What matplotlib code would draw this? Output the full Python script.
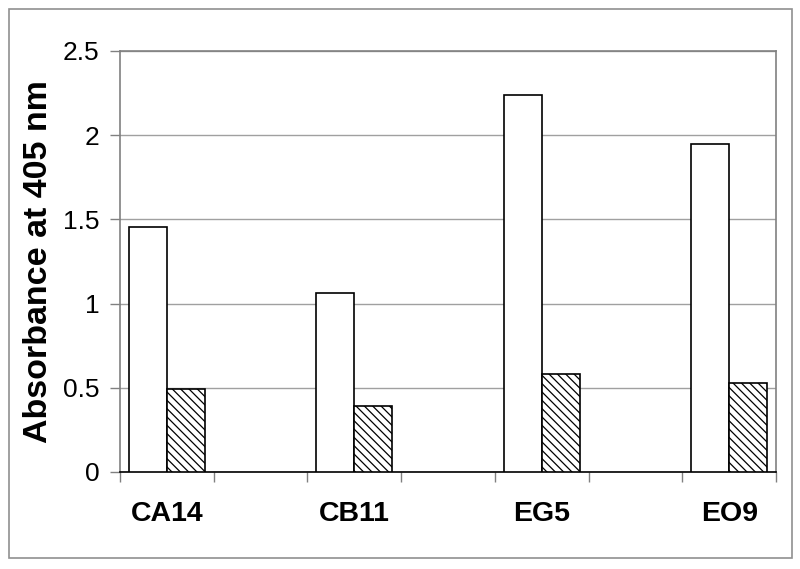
import matplotlib.pyplot as plt
from matplotlib.patches import Rectangle
import numpy as np

plt.rcParams['font.family'] = ['Liberation Sans', 'DejaVu Sans']
plt.rcParams['hatch.linewidth'] = 0.9

samples = ['CA14', 'CB11', 'EG5', 'EO9']
open_vals = [1.455, 1.063, 2.236, 1.95]
hatched_vals = [0.49, 0.39, 0.58, 0.53]

fig = plt.figure(figsize=(8, 5.69), dpi=100)
ax = fig.add_axes([0.15, 0.1705, 0.82, 0.74])

# samples sit in every second slot of seven
pos = np.arange(len(samples)) * 2 + 0.5
w = 0.405
ax.bar(pos - w / 2, open_vals, width=w, color='white', edgecolor='black', linewidth=1.2, zorder=3)
ax.bar(pos + w / 2, hatched_vals, width=w, color='white', edgecolor='black', linewidth=1.2,
       hatch='\\\\\\\\', zorder=3)

ax.set_xlim(0, 7)
ax.set_ylim(0, 2.5)
ax.set_yticks([0, 0.5, 1, 1.5, 2, 2.5])
ax.set_yticklabels(['0', '0.5', '1', '1.5', '2', '2.5'], fontsize=19)
ax.yaxis.grid(True, color='#a0a0a0', linewidth=1.0, zorder=0)
ax.set_axisbelow(True)

ax.set_xticks(pos)
ax.set_xticklabels(samples, fontsize=20.5, fontweight='bold')
ax.set_xticks(np.arange(0, 8), minor=True)
ax.tick_params(axis='x', which='major', length=0, pad=21)
ax.tick_params(axis='x', which='minor', length=7, width=1, color='#808080', direction='out')
ax.tick_params(axis='y', length=7, width=1, color='#808080', pad=8)

ax.set_ylabel('Absorbance at 405 nm', fontsize=24.5, fontweight='bold', labelpad=6)

for s in ['top', 'right', 'left']:
    ax.spines[s].set_color('#808080')
    ax.spines[s].set_linewidth(1.2)
ax.spines['bottom'].set_color('black')
ax.spines['bottom'].set_linewidth(1.2)

fig.patches.append(Rectangle((0.01125, 0.0193), 0.979, 0.965, transform=fig.transFigure,
                             fill=False, edgecolor='#909090', linewidth=1.2))

fig.savefig('out.png', dpi=100)
